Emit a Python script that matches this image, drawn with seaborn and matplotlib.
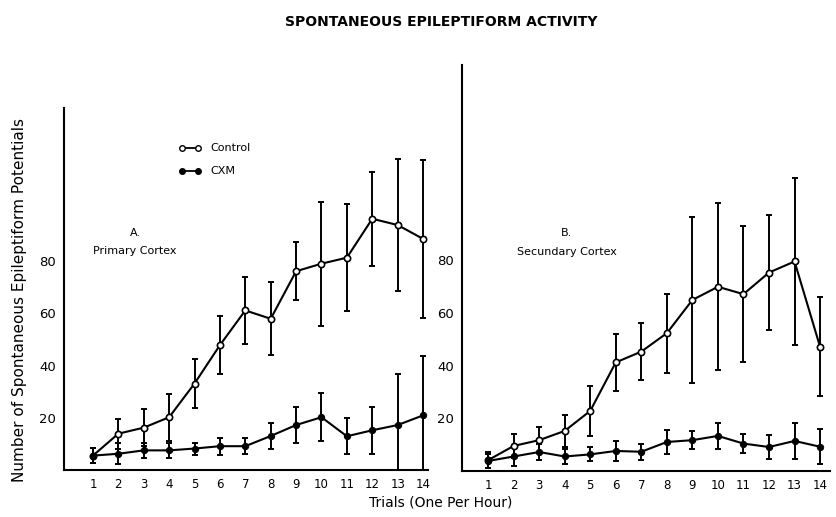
import matplotlib
matplotlib.use("Agg")
import matplotlib.pyplot as plt
import seaborn as sns
import pandas as pd

trials = list(range(1, 15))

# Panel A - primary cortex
a_control = [5.5, 13.9, 16.2, 20.2, 33.1, 47.8, 61.1, 57.9, 76.1, 79.0, 81.3, 96.2, 93.8, 88.5]
a_control_err = [3.0, 5.7, 7.0, 9.0, 9.4, 11.2, 12.8, 14.0, 11.2, 23.8, 20.4, 17.9, 25.4, 30.3]
a_cxm = [5.5, 6.2, 7.5, 7.5, 8.2, 9.1, 9.1, 13.0, 17.2, 20.2, 12.9, 15.2, 17.2, 20.9]
a_cxm_err = [3.0, 4.0, 3.0, 2.8, 2.3, 3.2, 3.0, 4.9, 6.8, 9.2, 6.9, 9.0, 19.5, 22.6]

# Panel B - secondary cortex
b_control = [4.1, 9.5, 11.7, 15.2, 22.8, 41.2, 45.3, 52.3, 64.9, 69.9, 67.1, 75.3, 79.5, 47.1]
b_control_err = [3.0, 4.4, 5.0, 6.0, 9.6, 10.8, 10.9, 15.0, 31.6, 31.7, 25.7, 21.8, 31.6, 18.8]
b_cxm = [3.8, 5.5, 7.2, 5.5, 6.3, 7.6, 7.3, 11.0, 11.7, 13.3, 10.4, 9.1, 11.4, 9.2]
b_cxm_err = [2.5, 3.7, 3.0, 2.9, 2.7, 3.8, 3.1, 4.5, 3.3, 4.8, 3.7, 4.5, 6.7, 6.6]

yticks = [20, 40, 60, 80]

sns.set_style("ticks")
plt.rcParams['font.family'] = ['DejaVu Sans']
plt.rcParams['text.color'] = 'black'
plt.rcParams['xtick.color'] = 'black'
plt.rcParams['ytick.color'] = 'black'

fig = plt.figure(figsize=(8.37, 5.17), dpi=100)
ax_a = fig.add_axes([0.0765, 0.091, 0.435, 0.700])
ax_b = fig.add_axes([0.552, 0.089, 0.440, 0.785])


def draw_panel(ax, control, control_err, cxm, cxm_err, ymax, xlim):
    df = pd.DataFrame({
        'trial': trials * 2,
        'value': control + cxm,
        'group': ['Control'] * 14 + ['CXM'] * 14,
    })
    for vals, errs in [(control, control_err), (cxm, cxm_err)]:
        ax.errorbar(trials, vals, yerr=errs, fmt='none', ecolor='black',
                    elinewidth=1.4, capsize=2.5, capthick=1.4, zorder=2)
    sns.lineplot(data=df, x='trial', y='value', hue='group', style='group',
                 markers={'Control': 'o', 'CXM': 'o'}, dashes=False,
                 palette={'Control': 'black', 'CXM': 'black'},
                 linewidth=1.5, markersize=4.5, legend=False, ax=ax, zorder=3)
    ctrl_line, cxm_line = ax.lines[-2], ax.lines[-1]
    ctrl_line.set_markerfacecolor('white')
    ctrl_line.set_markeredgecolor('black')
    ctrl_line.set_markeredgewidth(1.2)
    cxm_line.set_markerfacecolor('black')
    cxm_line.set_markeredgecolor('black')
    ax.set_xlim(*xlim)
    ax.set_ylim(0, ymax)
    ax.set_xticks(trials)
    ax.set_xticklabels([str(t) for t in trials], fontsize=8.5)
    ax.set_yticks(yticks)
    ax.set_yticklabels([str(t) for t in yticks], fontsize=9.5)
    ax.tick_params(axis='x', length=0, pad=6)
    ax.tick_params(axis='y', length=0, pad=6)
    ax.set_xlabel('')
    ax.set_ylabel('')
    for s in ['top', 'right']:
        ax.spines[s].set_visible(False)
    for s in ['left', 'bottom']:
        ax.spines[s].set_linewidth(1.5)
        ax.spines[s].set_color('black')


draw_panel(ax_a, a_control, a_control_err, a_cxm, a_cxm_err, 138.6, (-0.14, 14.2))
draw_panel(ax_b, b_control, b_control_err, b_cxm, b_cxm_err, 154.0, (-0.02, 14.4))

# panel labels
ax_a.text(0.195, 0.655, 'A.', transform=ax_a.transAxes, ha='center', va='center', fontsize=8)
ax_a.text(0.195, 0.605, 'Primary Cortex', transform=ax_a.transAxes, ha='center', va='center', fontsize=8)
ax_b.text(0.285, 0.586, 'B.', transform=ax_b.transAxes, ha='center', va='center', fontsize=8)
ax_b.text(0.285, 0.539, 'Secundary Cortex', transform=ax_b.transAxes, ha='center', va='center', fontsize=8)

# legend drawn by hand in figure pixels
for yy, face, lab in [(148, 'white', 'Control'), (171, 'black', 'CXM')]:
    fy = 1 - yy / 517
    fig.lines.append(plt.Line2D([182 / 837, 198 / 837], [fy, fy], color='black',
                                linewidth=1.3, marker='o', markersize=4,
                                markerfacecolor=face, markeredgecolor='black',
                                transform=fig.transFigure))
    fig.text(210 / 837, fy, lab, fontsize=8, va='center')

fig.text(0.527, 1 - 22 / 517, 'SPONTANEOUS EPILEPTIFORM ACTIVITY', ha='center', va='center',
         fontsize=10, fontweight='bold')
fig.text(0.527, 1 - 503 / 517, 'Trials (One Per Hour)', ha='center', va='center', fontsize=10)
fig.text(20 / 837, 1 - 300 / 517, 'Number of Spontaneous Epileptiform Potentials',
         rotation=90, ha='center', va='center', fontsize=11)

fig.savefig('out.png', dpi=100)
